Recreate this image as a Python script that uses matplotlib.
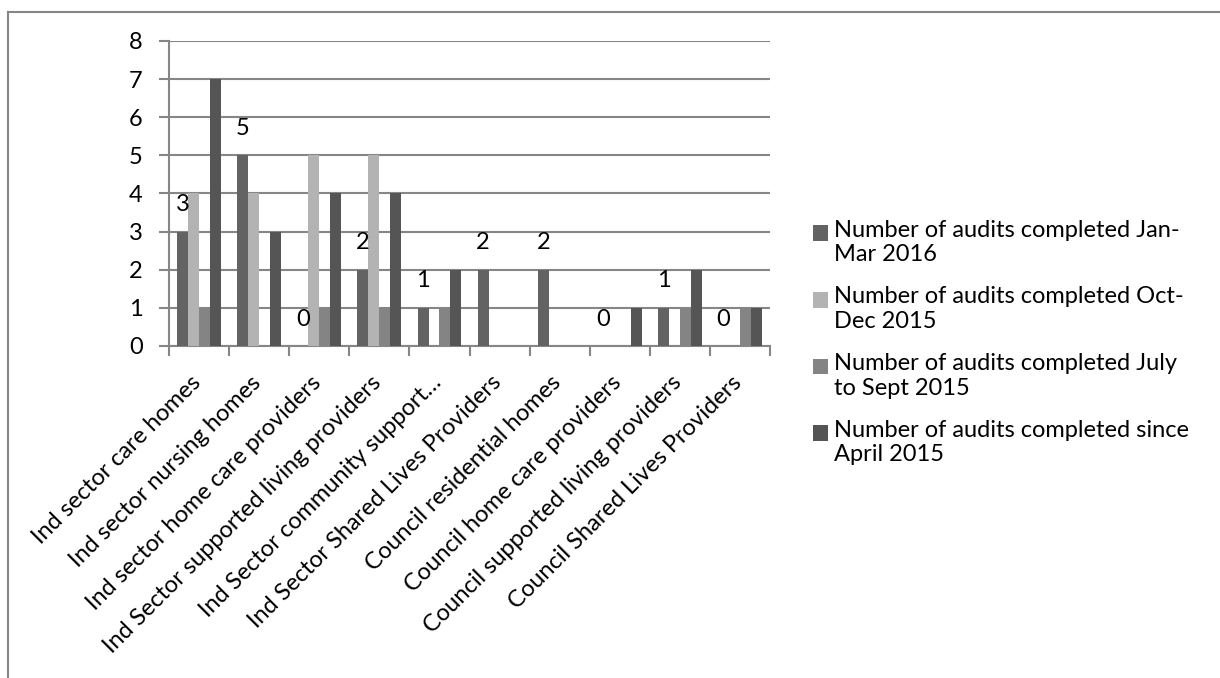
import numpy as np
import matplotlib.pyplot as plt
from matplotlib.lines import Line2D
from matplotlib.patches import Rectangle
from matplotlib.container import BarContainer
from matplotlib.legend_handler import HandlerPatch, update_from_first_child
from matplotlib.transforms import ScaledTranslation

plt.rcParams["font.family"] = ["Lato", "DejaVu Sans"]

# Data
categories = [
    "Ind sector care homes",
    "Ind sector nursing homes",
    "Ind sector home care providers",
    "Ind Sector supported living providers",
    "Ind Sector community support…",
    "Ind Sector Shared Lives Providers",
    "Council residential homes",
    "Council home care providers",
    "Council supported living providers",
    "Council Shared Lives Providers",
]
jan_mar_2016 = [3, 5, 0, 2, 1, 2, 2, 0, 1, 0]
oct_dec_2015 = [4, 4, 5, 5, 0, 0, 0, 0, 0, 0]
jul_sep_2015 = [1, 0, 1, 1, 1, 0, 0, 0, 1, 1]
since_apr_2015 = [7, 3, 4, 4, 2, 0, 0, 1, 2, 1]

series_names = [
    "Number of audits completed Jan-\nMar 2016",
    "Number of audits completed Oct-\nDec 2015",
    "Number of audits completed July\nto Sept 2015",
    "Number of audits completed since\nApril 2015",
]
series_values = [jan_mar_2016, oct_dec_2015, jul_sep_2015, since_apr_2015]
colors = ["#636363", "#b3b3b3", "#848484", "#555555"]

GRID = "#868686"
FS = 17


# legend square sits next to the first line of a two-line label
def first_line_box(legend, orig_handle, xdescent, ydescent, width, height, fontsize):
    return Rectangle((-xdescent, -ydescent + 0.4 * fontsize), width, height)


fig = plt.figure(figsize=(12.2, 6.78), dpi=100)
ax = fig.add_axes([169 / 1220, 1 - 346 / 678, 601 / 1220, 305 / 678])

x = np.arange(len(categories))
w = 1 / 5.5
bars = []
for i, (vals, name, c) in enumerate(zip(series_values, series_names, colors)):
    b = ax.bar(x - 1.5 * w + i * w, vals, w, color=c, label=name, zorder=3)
    bars.append(b)

# data labels on the first series only
for rect, v in zip(bars[0], jan_mar_2016):
    ax.annotate(
        str(v),
        (rect.get_x() + rect.get_width() / 2, v),
        xytext=(0, 27),
        textcoords="offset pixels",
        ha="center",
        va="center",
        fontsize=FS,
        zorder=4,
    )

ax.set_xlim(-0.5, len(categories) - 0.5)
ax.set_ylim(0, 8)
ax.set_yticks(range(0, 9))
ax.yaxis.grid(True, color=GRID, linewidth=1.5, zorder=0)
ax.tick_params(axis="y", length=7, width=1.5, color=GRID, pad=12, labelsize=FS)

# ticks at category boundaries, labels at centres
ax.set_xticks(np.arange(-0.5, len(categories)), minor=False)
ax.set_xticklabels([])
ax.set_xticks(x, minor=True)
ax.set_xticklabels(categories, minor=True, rotation=45, ha="right",
                   rotation_mode="anchor", fontsize=FS)
ax.tick_params(axis="x", which="major", length=7, width=1.5, color=GRID)
ax.tick_params(axis="x", which="minor", length=0, pad=20)
shift = ScaledTranslation(-9 / 100, 2 / 100, fig.dpi_scale_trans)
for lab in ax.get_xticklabels(minor=True):
    lab.set_transform(lab.get_transform() + shift)

for side in ["top", "right"]:
    ax.spines[side].set_visible(False)
for side in ["left", "bottom"]:
    ax.spines[side].set_color(GRID)
    ax.spines[side].set_linewidth(1.5)

ax.legend(
    loc="upper left",
    bbox_to_anchor=(801 / 1220, 1 - 208 / 678),
    bbox_transform=fig.transFigure,
    frameon=False,
    fontsize=FS,
    handlelength=0.65,
    handleheight=0.65,
    handletextpad=0.25,
    labelspacing=0.9,
    borderpad=0,
    handler_map={
        BarContainer: HandlerPatch(patch_func=first_line_box,
                                   update_func=update_from_first_child)
    },
)

# outer chart frame (only top and left edges are visible)
fig.add_artist(Line2D([8 / 1220, 1], [1 - 12 / 678] * 2, color=GRID, linewidth=1.5))
fig.add_artist(Line2D([8 / 1220] * 2, [0, 1 - 12 / 678], color=GRID, linewidth=1.5))

fig.savefig("out.png", dpi=100)
